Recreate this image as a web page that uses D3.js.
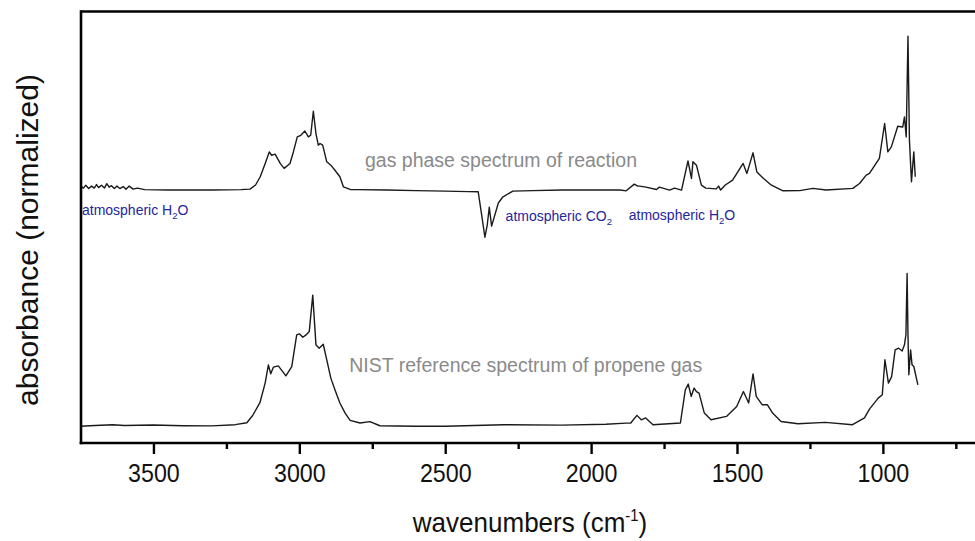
<!DOCTYPE html>
<html>
<head>
<meta charset="utf-8">
<script src="https://cdn.jsdelivr.net/npm/d3@7"></script>
<style>
  html, body { margin: 0; padding: 0; background: #fff; }
  svg { display: block; font-family: "Liberation Sans", Arial, sans-serif; }
</style>
</head>
<body>
<svg id="chart" width="975" height="541"></svg>
<script>
// ---- data ----
const majorTicks = [3500, 3000, 2500, 2000, 1500, 1000];
const minorTicks = [3250, 2750, 2250, 1750, 1250, 750];

const reactionOffset = 1.55;

// gas phase spectrum of reaction: [wavenumber, normalized absorbance]
const reactionSpectrum = [
  [3750,0.023],[3740,0.010],[3732,0.029],[3722,0.007],[3712,0.023],[3703,0.010],
  [3695,0.033],[3688,0.013],[3678,0.029],[3668,0.010],[3660,0.039],[3652,0.016],
  [3644,0.026],[3634,0.007],[3625,0.023],[3615,0.007],[3604,0.020],[3594,0.003],
  [3583,0.023],[3570,0.003],[3555,0.010],[3530,0.000],[3450,-0.003],[3300,-0.003],
  [3200,0.000],[3169,0.003],[3150,0.030],[3134,0.084],[3117,0.171],[3103,0.247],
  [3095,0.225],[3083,0.232],[3065,0.170],[3052,0.139],[3032,0.171],[3020,0.250],
  [3007,0.345],[2995,0.356],[2981,0.384],[2969,0.345],[2961,0.356],[2952,0.513],
  [2943,0.367],[2935,0.291],[2929,0.302],[2920,0.291],[2906,0.182],[2892,0.160],
  [2878,0.127],[2861,0.084],[2849,0.018],[2826,0.001],[2800,0.000],[2700,-0.003],
  [2600,-0.007],[2500,-0.010],[2420,-0.013],[2387,-0.014],[2375,-0.167],[2364,-0.312],
  [2356,-0.232],[2349,-0.116],[2341,-0.239],[2330,-0.167],[2318,-0.088],[2302,-0.047],
  [2268,-0.010],[2200,-0.007],[2100,-0.003],[2000,-0.003],[1900,-0.003],[1880,-0.008],
  [1852,0.036],[1840,0.023],[1834,0.023],[1812,0.016],[1776,0.001],[1766,0.016],
  [1731,-0.003],[1714,0.010],[1690,-0.003],[1668,0.188],[1656,0.073],[1651,0.182],
  [1639,0.160],[1622,0.029],[1607,0.010],[1571,0.005],[1563,0.023],[1556,-0.003],
  [1540,0.030],[1515,0.062],[1479,0.171],[1466,0.106],[1445,0.241],[1432,0.116],
  [1409,0.073],[1382,0.029],[1342,-0.008],[1285,-0.007],[1240,0.008],[1194,-0.003],
  [1103,0.008],[1080,0.040],[1057,0.095],[1046,0.106],[1012,0.204],[994,0.433],
  [983,0.247],[971,0.280],[949,0.415],[932,0.410],[926,0.476],[920,0.345],
  [914,1.005],[909,0.324],[902,0.051],[894,0.247],[889,0.084]
];

// NIST reference spectrum of propene gas: [wavenumber, normalized absorbance]
const propeneSpectrum = [
  [3750,0.000],[3700,0.005],[3640,0.010],[3600,0.005],[3500,0.008],[3400,0.003],
  [3300,0.002],[3220,0.010],[3180,0.023],[3160,0.070],[3135,0.154],[3117,0.284],
  [3106,0.402],[3098,0.343],[3089,0.387],[3072,0.395],[3046,0.330],[3026,0.391],
  [3009,0.598],[3000,0.605],[2988,0.583],[2977,0.598],[2966,0.620],[2954,0.859],
  [2943,0.533],[2932,0.511],[2918,0.537],[2906,0.435],[2892,0.315],[2878,0.239],
  [2861,0.152],[2843,0.086],[2826,0.038],[2792,0.021],[2758,0.030],[2724,0.003],
  [2600,0.000],[2500,0.000],[2300,0.010],[2100,0.007],[1950,0.013],[1880,0.020],
  [1864,0.021],[1843,0.071],[1828,0.042],[1813,0.054],[1788,0.010],[1694,0.021],
  [1677,0.239],[1667,0.276],[1657,0.195],[1647,0.250],[1639,0.227],[1630,0.217],
  [1612,0.086],[1589,0.042],[1536,0.064],[1501,0.129],[1478,0.227],[1460,0.152],
  [1445,0.343],[1434,0.195],[1414,0.141],[1396,0.141],[1378,0.086],[1349,0.031],
  [1291,0.016],[1197,0.025],[1104,0.010],[1063,0.054],[1046,0.112],[1016,0.184],
  [1002,0.206],[993,0.435],[981,0.282],[970,0.325],[958,0.500],[946,0.511],
  [934,0.493],[926,0.533],[921,0.600],[917,1.000],[914,0.600],[911,0.337],
  [905,0.500],[900,0.402],[894,0.391],[880,0.271]
];

// text annotations
const grayLabels = [
  ["gas phase spectrum of reaction", 2775, 1.70],
  ["NIST reference spectrum of propene gas", 2829, 0.357]
];
const blueLabels = [
  ["atmospheric H", "2", "O", 3745, 1.384],
  ["atmospheric CO", "2", "", 2293, 1.346],
  ["atmospheric H", "2", "O", 1871, 1.351]
];

const xTitle = "wavenumbers (cm";
const yTitle = "absorbance (normalized)";

// ---- chart ----
const W = 975, H = 541;
const svg = d3.select("#chart");
const x = d3.scaleLinear().domain([3750, 650]).range([80.5, 985]);
const y = d3.scaleLinear().domain([-0.11, 2.72]).range([443, 11]);
const axisY = 443, leftX = 81;

const line = d3.line().x(d => x(d[0])).y(d => y(d[1]));

svg.append("path")
  .datum(reactionSpectrum.map(d => [d[0], d[1] + reactionOffset]))
  .attr("d", line).attr("fill", "none").attr("stroke", "#1a1a1a")
  .attr("stroke-width", 1.4).attr("stroke-linejoin", "round");

svg.append("path")
  .datum(propeneSpectrum)
  .attr("d", line).attr("fill", "none").attr("stroke", "#1a1a1a")
  .attr("stroke-width", 1.4).attr("stroke-linejoin", "round");

// frame
svg.append("line").attr("x1", leftX).attr("x2", W).attr("y1", 11.5).attr("y2", 11.5)
  .attr("stroke", "#000").attr("stroke-width", 2.6);
svg.append("line").attr("x1", leftX).attr("x2", leftX).attr("y1", 10.2).attr("y2", axisY + 1.3)
  .attr("stroke", "#000").attr("stroke-width", 2.6);

// x axis
const gx = svg.append("g").attr("transform", `translate(0,${axisY})`)
  .call(d3.axisBottom(x).tickValues(majorTicks).tickSize(11).tickSizeOuter(0).tickPadding(10)
    .tickFormat(d3.format("d")));
gx.select(".domain").remove();
gx.selectAll(".tick line").attr("stroke", "#000").attr("stroke-width", 2.4);
gx.selectAll(".tick text").attr("font-size", 25).attr("fill", "#111")
  .attr("transform", "scale(0.93,1)")
  .attr("font-family", "'Liberation Sans', Arial, sans-serif");

const gm = svg.append("g").attr("transform", `translate(0,${axisY})`)
  .call(d3.axisBottom(x).tickValues(minorTicks).tickSize(6).tickSizeOuter(0).tickFormat(""));
gm.select(".domain").remove();
gm.selectAll(".tick line").attr("stroke", "#000").attr("stroke-width", 2.4);

svg.append("line").attr("x1", leftX - 1.3).attr("x2", W).attr("y1", axisY).attr("y2", axisY)
  .attr("stroke", "#000").attr("stroke-width", 2.6);

// axis titles
const xt = svg.append("text").attr("transform", "translate(530,532) scale(0.93,1)")
  .attr("text-anchor", "middle").attr("font-size", 28).attr("fill", "#111");
xt.append("tspan").text(xTitle);
xt.append("tspan").attr("font-size", 16).attr("dy", -11).text("-1");
xt.append("tspan").attr("dy", 11).text(")");

svg.append("text").attr("transform", "translate(38,240) rotate(-90)")
  .attr("text-anchor", "middle").attr("font-size", 30).attr("fill", "#111").text(yTitle);

// annotations
svg.selectAll("text.gray").data(grayLabels).join("text").attr("class", "gray")
  .attr("x", d => x(d[1])).attr("y", d => y(d[2]))
  .attr("font-size", 19.5).attr("fill", "#8a8a8a").text(d => d[0]);

const bl = svg.selectAll("text.blue").data(blueLabels).join("text").attr("class", "blue")
  .attr("x", d => x(d[3])).attr("y", d => y(d[4]))
  .attr("font-size", 14).attr("fill", "#25259c");
bl.append("tspan").text(d => d[0]);
bl.append("tspan").attr("font-size", 9.5).attr("dy", 4).text(d => d[1]);
bl.append("tspan").attr("dy", -4).text(d => d[2]);
</script>
</body>
</html>
